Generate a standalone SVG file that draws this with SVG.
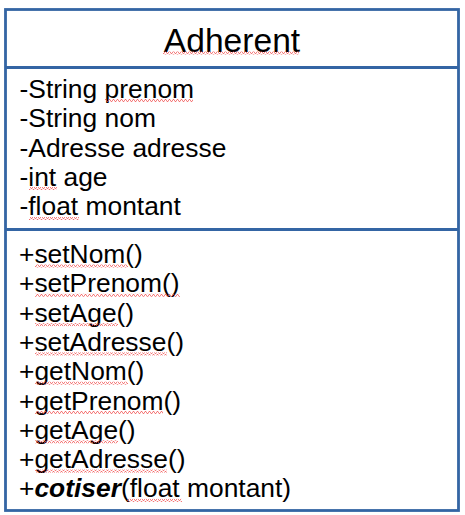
<svg xmlns="http://www.w3.org/2000/svg" width="465" height="515" viewBox="0 0 465 515">
<style>
.box{fill:#ffffff;stroke:#3465a4;stroke-width:2.8}
.sep{stroke:#3465a4;stroke-width:2.8}
.t{font-family:"Liberation Sans",Arial,sans-serif;font-size:26.4px;fill:#000000}
.title{font-family:"Liberation Sans",Arial,sans-serif;font-size:33.6px;fill:#000000}
.sq{fill:url(#wave)}
</style>
<defs>
<pattern id="wave" patternUnits="userSpaceOnUse" x="0" y="0" width="4" height="3">
<path d="M0,2.5 L1,0.5 L2,0.5 L3,2.5 L4,2.5" fill="none" stroke="#f04848" stroke-width="0.7"/>
</pattern>
</defs>
<rect width="465" height="515" fill="#ffffff"/>
<g id="Adherent">
<rect class="box" x="5.5" y="9.5" width="453" height="501"/>
<line class="sep" x1="5.5" y1="67.5" x2="458.5" y2="67.5"/>
<line class="sep" x1="5.5" y1="229.5" x2="458.5" y2="229.5"/>
<text class="title" x="232" y="52" text-anchor="middle">Adherent</text>
<rect class="sq" x="163" y="51.5" width="136" height="3"/>
<g id="attributes">
<text class="t" x="19.5" y="98">-String prenom</text>
<text class="t" x="19.5" y="127.3">-String nom</text>
<text class="t" x="19.5" y="156.6">-Adresse adresse</text>
<text class="t" x="19.5" y="185.9">-int age</text>
<text class="t" x="19.5" y="215.2">-float montant</text>
<rect class="sq" x="105" y="99" width="88" height="3"/>
<rect class="sq" x="29" y="187" width="28" height="3"/>
<rect class="sq" x="29" y="217" width="50" height="3"/>
</g>
<g id="operations">
<text class="t" x="19" y="263">+setNom()</text>
<text class="t" x="19" y="292.3">+setPrenom()</text>
<text class="t" x="19" y="321.6">+setAge()</text>
<text class="t" x="19" y="350.9">+setAdresse()</text>
<text class="t" x="19" y="380.2">+getNom()</text>
<text class="t" x="19" y="409.5">+getPrenom()</text>
<text class="t" x="19" y="438.8">+getAge()</text>
<text class="t" x="19" y="468.1">+getAdresse()</text>
<text class="t" x="19" y="497.4">+<tspan font-weight="bold" font-style="italic">cotiser</tspan>(float montant)</text>
<rect class="sq" x="35" y="264.5" width="93" height="3"/>
<rect class="sq" x="35" y="293.8" width="145" height="3"/>
<rect class="sq" x="35" y="323.1" width="83" height="3"/>
<rect class="sq" x="35" y="352.4" width="132" height="3"/>
<rect class="sq" x="35" y="381.7" width="93" height="3"/>
<rect class="sq" x="35" y="411" width="128" height="3"/>
<rect class="sq" x="35" y="440.3" width="83" height="3"/>
<rect class="sq" x="35" y="469.6" width="132" height="3"/>
<rect class="sq" x="127" y="498.9" width="55" height="3"/>
</g>
</g>
</svg>
